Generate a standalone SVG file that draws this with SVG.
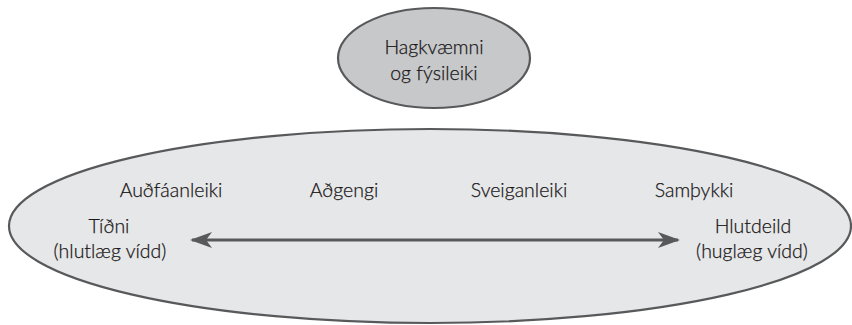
<svg xmlns="http://www.w3.org/2000/svg" width="852" height="325" viewBox="0 0 852 325">
<style>
text{font-family:Lato,"Liberation Sans",sans-serif;font-size:19.5px;font-weight:300;fill:#1a1718;text-anchor:middle;stroke:#1a1718;stroke-width:0.25}
.big{fill:#e6e7e8;stroke:#58595b;stroke-width:2.2}
.small{fill:#c7c8ca;stroke:#58595b;stroke-width:2.2}
.conn{stroke:#58595b;stroke-width:3;fill:none}
</style>
<defs>
<marker id="ah" viewBox="0 0 22 16" refX="20" refY="8" markerWidth="22" markerHeight="16" markerUnits="userSpaceOnUse" orient="auto-start-reverse">
<path d="M0,0 L22,8 L0,16 L6,8 Z" fill="#58595b"/>
</marker>
</defs>
<g id="scope">
<ellipse class="big" cx="430" cy="226" rx="421" ry="97"/>
</g>
<g id="hagkvaemni">
<ellipse class="small" cx="434" cy="58" rx="96" ry="50"/>
<text x="434" y="54">Hagkvæmni</text>
<text x="434" y="80">og fýsileiki</text>
</g>
<g id="audfaanleiki"><text x="171" y="197">Auðfáanleiki</text></g>
<g id="adgengi"><text x="344" y="197">Aðgengi</text></g>
<g id="sveiganleiki"><text x="519" y="197">Sveiganleiki</text></g>
<g id="sampykki"><text x="694" y="197">Samþykki</text></g>
<g id="tidni">
<text x="109" y="233">Tíðni</text>
<text x="110" y="258">(hlutlæg vídd)</text>
</g>
<g id="hlutdeild">
<text x="753" y="233">Hlutdeild</text>
<text x="752" y="258">(huglæg vídd)</text>
</g>
<g id="connectors">
<line class="conn" x1="192" y1="240" x2="678" y2="240" marker-start="url(#ah)" marker-end="url(#ah)"/>
</g>
</svg>
